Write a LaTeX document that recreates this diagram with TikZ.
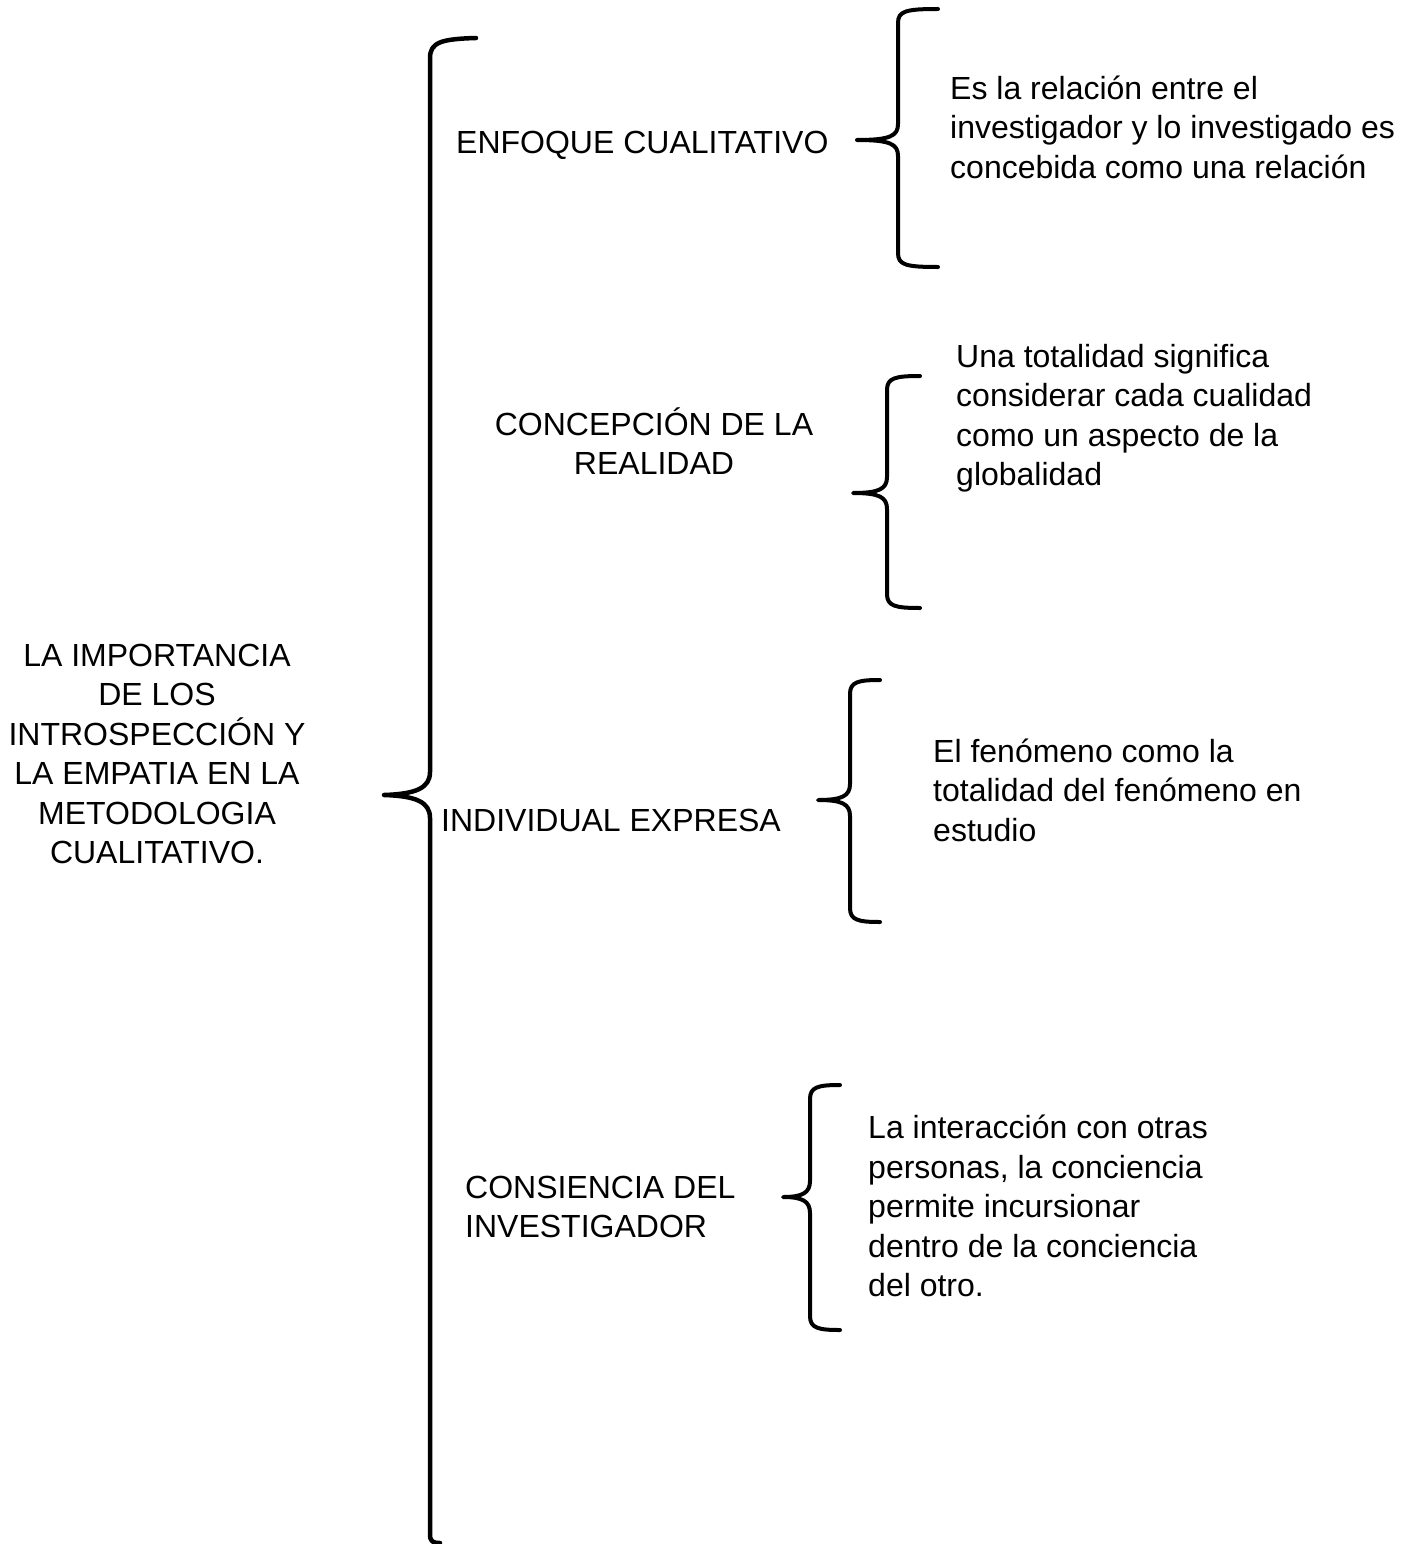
\documentclass[tikz,border=0pt]{standalone}
\usepackage{fontspec}
\setmainfont{Liberation Sans}
\usetikzlibrary{positioning, calc}

% curly brace: vertical x, top, middle, bottom, tip x, end x
\newcommand{\llave}[6]{%
  \draw[bracket] (#6,#2) .. controls ({#1+8},#2) and (#1,{#2+2}) .. (#1,{#2+14})
    -- (#1,{#3-16}) .. controls (#1,{#3-4}) and ({#1-8},#3) .. (#5,#3)
    .. controls ({#1-8},#3) and (#1,{#3+4}) .. (#1,{#3+16})
    -- (#1,{#4-14}) .. controls (#1,{#4-2}) and ({#1+8},#4) .. (#6,#4);}

\tikzset{
  bracket/.style={line width=4pt, line cap=round, line join=round},
  cat/.style={inner sep=0pt, font=\fontsize{32}{39.5}\selectfont},
  desc/.style={inner sep=0pt, align=left, anchor=west, font=\fontsize{32}{39.5}\selectfont},
}

\begin{document}
\begin{tikzpicture}[x=1pt, y=-1pt]
  \useasboundingbox (0,0) rectangle (1408,1544);

  % Root
  \node[cat, align=center] (root) at (157,754) {LA IMPORTANCIA\\DE LOS\\INTROSPECCIÓN Y\\LA EMPATIA EN LA\\METODOLOGIA\\CUALITATIVO.};

  % Main brace
  \draw[bracket, line width=4.5pt] (476,38) .. controls (442,39) and (430,42) .. (430,58)
    -- (430,772) .. controls (430,788) and (416,794) .. (384,795)
    .. controls (416,796) and (430,802) .. (430,818)
    -- (430,1534) .. controls (430,1541) and (432,1543) .. (440,1543);

  % Categories
  \node[cat, anchor=west] (enfoque) at (456,145) {ENFOQUE CUALITATIVO};
  \node[cat, align=center] (concepcion) at (654,441) {CONCEPCIÓN DE LA\\REALIDAD};
  \node[cat, anchor=west] (individual) at (441,820) {INDIVIDUAL EXPRESA};
  \node[cat, align=left, anchor=west] (consiencia) at (465,1207) {CONSIENCIA DEL\\INVESTIGADOR};

  % Secondary braces
  \llave{898}{9}{140}{267}{857}{938}
  \llave{887}{376}{493}{608}{853}{920}
  \llave{850}{680}{800}{922}{818}{880}
  \llave{810}{1085}{1197}{1330}{783}{840}

  % Descriptions
  \node[desc] (desc1) at (950,127) {Es la relación entre el\\investigador y lo investigado es\\concebida como una relación};
  \node[desc] (desc2) at (956,418) {Una totalidad significa\\considerar cada cualidad\\como un aspecto de la\\globalidad};
  \node[desc] (desc3) at (933,790) {El fenómeno como la\\totalidad del fenómeno en\\estudio};
  \node[desc] (desc4) at (868,1206) {La interacción con otras\\personas, la conciencia\\permite incursionar\\dentro de la conciencia\\del otro.};
\end{tikzpicture}
\end{document}
